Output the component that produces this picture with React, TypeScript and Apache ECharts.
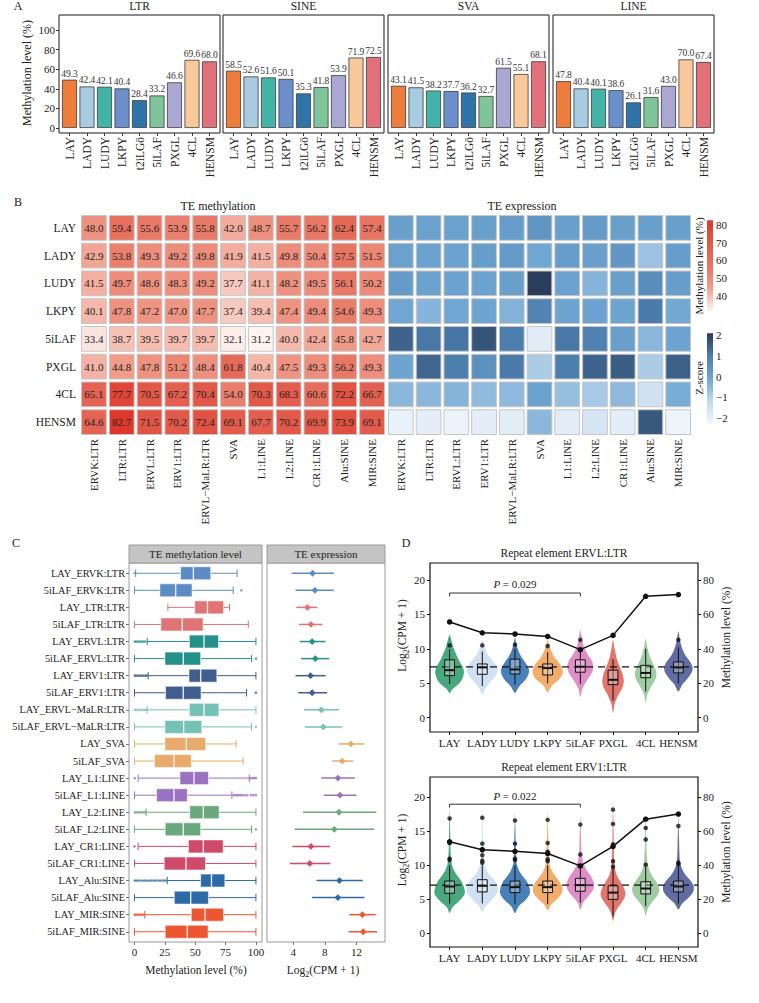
import React, { useEffect, useRef } from 'react';
import * as echarts from 'echarts';

const FONT = '"Liberation Serif", "Times New Roman", serif';
const INK = '#222222';

/* ---------- A: mean methylation level per TE class ---------- */
const SAMPLES = ['LAY', 'LADY', 'LUDY', 'LKPY', 't2iLGö', '5iLAF', 'PXGL', '4CL', 'HENSM'];
const SAMPLE_COLORS = ['#EE7D3B', '#A8CBE1', '#43B3A8', '#6A8FCB', '#2F74A9', '#7FC59C', '#ABA7D3', '#F9C99B', '#E2707B'];
const CLASS_TITLES = ['LTR', 'SINE', 'SVA', 'LINE'];
const METH_LTR = [49.3, 42.4, 42.1, 40.4, 28.4, 33.2, 46.6, 69.6, 68.0];
const METH_SINE = [58.5, 52.6, 51.6, 50.1, 35.3, 41.8, 53.9, 71.9, 72.5];
const METH_SVA = [43.1, 41.5, 38.2, 37.7, 36.2, 32.7, 61.5, 55.1, 68.1];
const METH_LINE = [47.8, 40.4, 40.1, 38.6, 26.1, 31.6, 43.0, 70.0, 67.4];
const A_TICKS = [0, 20, 40, 60, 80, 100];

/* ---------- B: TE subfamily methylation and expression ---------- */
const HM_ROWS = ['LAY', 'LADY', 'LUDY', 'LKPY', '5iLAF', 'PXGL', '4CL', 'HENSM'];
const TE_FAMILIES = ['ERVK:LTR', 'LTR:LTR', 'ERVL:LTR', 'ERV1:LTR', 'ERVL−MaLR:LTR', 'SVA', 'L1:LINE', 'L2:LINE', 'CR1:LINE', 'Alu:SINE', 'MIR:SINE'];
const TE_METH_LAY = [48.0, 59.4, 55.6, 53.9, 55.8, 42.0, 48.7, 55.7, 56.2, 62.4, 57.4];
const TE_METH_LADY = [42.9, 53.8, 49.3, 49.2, 49.8, 41.9, 41.5, 49.8, 50.4, 57.5, 51.5];
const TE_METH_LUDY = [41.5, 49.7, 48.6, 48.3, 49.2, 37.7, 41.1, 48.2, 49.5, 56.1, 50.2];
const TE_METH_LKPY = [40.1, 47.8, 47.2, 47.0, 47.7, 37.4, 39.4, 47.4, 49.4, 54.6, 49.3];
const TE_METH_5ILAF = [33.4, 38.7, 39.5, 39.7, 39.7, 32.1, 31.2, 40.0, 42.4, 45.8, 42.7];
const TE_METH_PXGL = [41.0, 44.8, 47.8, 51.2, 48.4, 61.8, 40.4, 47.5, 49.3, 56.2, 49.3];
const TE_METH_4CL = [65.1, 77.7, 70.5, 67.2, 70.4, 54.0, 70.3, 68.3, 60.6, 72.2, 66.7];
const TE_METH_HENSM = [64.6, 82.7, 71.5, 70.2, 72.4, 69.1, 67.7, 70.2, 69.9, 73.9, 69.1];
const TE_METH = [TE_METH_LAY, TE_METH_LADY, TE_METH_LUDY, TE_METH_LKPY, TE_METH_5ILAF, TE_METH_PXGL, TE_METH_4CL, TE_METH_HENSM];

const TE_Z_LAY = [0.1, 0.05, 0.05, 0.1, 0.15, 0.35, 0.1, 0.2, 0.1, 0.1, 0.1];
const TE_Z_LADY = [0.05, 0.0, 0.0, 0.15, 0.2, -0.1, 0.15, 0.1, 0.3, -0.7, 0.15];
const TE_Z_LUDY = [0.2, 0.05, 0.0, 0.0, 0.1, 2.1, 0.0, -0.4, 0.1, 0.6, 0.15];
const TE_Z_LKPY = [-0.1, -0.4, -0.1, -0.05, -0.35, 0.85, -0.05, 0.0, -0.05, 1.05, -0.15];
const TE_Z_5ILAF = [1.45, 1.1, 1.15, 1.7, 1.0, -1.85, 1.1, 0.9, 0.1, -0.45, -0.05];
const TE_Z_PXGL = [-0.05, 1.4, 1.0, 0.5, 1.05, -0.9, 1.0, 1.45, 1.55, -0.9, 1.5];
const TE_Z_4CL = [-0.45, -0.45, -0.4, -0.55, -0.5, 0.05, -0.6, -0.85, -0.5, -1.5, -0.25];
const TE_Z_HENSM = [-2.05, -1.95, -2.1, -1.95, -1.9, -0.45, -1.9, -1.6, -1.95, 1.65, -2.15];
const TE_Z = [TE_Z_LAY, TE_Z_LADY, TE_Z_LUDY, TE_Z_LKPY, TE_Z_5ILAF, TE_Z_PXGL, TE_Z_4CL, TE_Z_HENSM];

const METH_RANGE = [31.2, 82.7];
const METH_RAMP = ['#FEF3EF', '#F19E8C', '#E87563', '#E2594A', '#DE382C'];
const METH_LEGEND_TICKS = [40, 50, 60, 70, 80];
const Z_RANGE = [-2.3, 2.1];
const Z_RAMP = ['#F4F8FC', '#C3DAEE', '#6FA6D2', '#4C7EAE', '#2A3D5C'];
const Z_LEGEND_TICKS = [2, 1, 0, -1, -2];

/* ---------- C: LAY vs 5iLAF per TE subfamily ---------- */
const C_SAMPLES = ['LAY', '5iLAF'];
const C_FAMILY_COLORS = ['#5B8CC3', '#E07373', '#23918A', '#3F5E8E', '#74C2B6', '#E8AB6C', '#9B72C0', '#69A97B', '#D04A6A', '#2C6BA7', '#EC5631'];
const C_ROWS = TE_FAMILIES.flatMap((f) => C_SAMPLES.map((s) => `${s}_${f}`));
// [lower whisker, Q1, median, Q3, upper whisker], methylation %
const C_BOX = [
  [1.0, 38.0, 48.5, 62.8, 84.5],
  [0, 20.9, 33.9, 47.4, 81.3],
  [27.5, 49.6, 60.1, 73.3, 78.2],
  [0, 21.8, 39.4, 56.5, 93.7],
  [10.5, 45.2, 57.3, 69.2, 100],
  [0, 25.1, 40.2, 54.5, 96.4],
  [11.3, 44.9, 54.5, 67.8, 100],
  [0, 25.6, 40.2, 54.8, 92.3],
  [10.5, 45.2, 57.3, 69.5, 100],
  [0, 25.1, 40.5, 55.4, 96.4],
  [0, 25.1, 42.7, 58.7, 83.7],
  [0, 16.5, 32.5, 46.8, 89.5],
  [3.0, 37.5, 49.0, 60.9, 94.5],
  [0, 18.2, 32.5, 43.5, 80.2],
  [9.6, 45.5, 56.7, 69.7, 100],
  [0, 25.3, 40.2, 54.5, 96.4],
  [3.0, 44.4, 56.7, 73.0, 100],
  [0, 24.5, 42.4, 58.5, 100],
  [27.0, 54.5, 63.4, 74.4, 100],
  [0, 32.8, 46.3, 60.9, 100],
  [8.5, 46.8, 58.1, 73.3, 100],
  [0, 25.3, 43.5, 60.6, 100],
];
// [row, value]
const C_OUTLIERS = [
  [0, 0.2], [1, 88],
  [4, 0.3], [4, 1.5], [4, 3], [4, 4.5], [4, 6], [4, 7.5], [4, 9], [5, 100],
  [6, 0.3], [6, 1.5], [6, 3], [6, 4.5], [6, 6], [6, 7.5], [6, 9], [6, 10.2], [7, 100],
  [8, 0.5], [8, 2], [8, 4], [8, 6], [8, 8], [8, 9.5], [9, 100],
  [12, 0.3], [12, 95.5], [12, 97], [12, 98.5], [12, 100],
  [13, 81.5], [13, 83], [13, 84.5], [13, 86], [13, 87.5], [13, 89], [13, 91], [13, 93], [13, 96], [13, 98], [13, 100],
  [14, 0.3], [14, 1.5], [14, 3], [14, 4.5], [14, 6], [14, 7.5], [14, 8.8], [15, 100],
  [16, 0],
  [18, 0.3], [18, 2], [18, 4], [18, 6], [18, 8], [18, 10], [18, 12], [18, 14], [18, 16], [18, 18], [18, 20], [18, 22], [18, 24], [18, 25.8],
  [20, 0.3], [20, 1.5], [20, 3], [20, 4.5], [20, 6], [20, 7.5],
];
// [mean, low, high], log2(CPM + 1)
const C_EXPR = [
  [6.45, 3.8, 9.15], [6.75, 4.3, 9.15], [5.8, 4.4, 7.05], [6.25, 4.75, 7.7],
  [6.4, 4.85, 8.1], [6.8, 5.0, 8.55], [6.2, 4.3, 8.1], [6.4, 4.65, 8.3],
  [7.55, 5.35, 9.8], [7.8, 5.5, 10.2], [11.3, 9.75, 13.0], [10.2, 8.9, 11.6],
  [9.65, 7.55, 11.8], [9.9, 7.85, 12.0], [9.8, 5.25, 14.5], [9.2, 4.2, 14.25],
  [6.25, 3.9, 8.65], [6.1, 3.6, 8.7], [9.85, 6.95, 12.8], [9.65, 6.4, 13.0],
  [12.75, 11.1, 14.4], [12.85, 11.0, 14.6],
];
const C_METH_TICKS = [0, 25, 50, 75, 100];
const C_EXPR_TICKS = [4, 8, 12];

/* ---------- D: single repeat elements across samples ---------- */
const D_GROUPS = ['LAY', 'LADY', 'LUDY', 'LKPY', '5iLAF', 'PXGL', '4CL', 'HENSM'];
const D_COLORS = ['#2E9B6B', '#C8DDF1', '#2F6FB0', '#F1A257', '#D97FBD', '#DE6258', '#93C596', '#4B5896'];
const D_LEFT_TICKS = [0, 5, 10, 15, 20];
const D_RIGHT_TICKS = [0, 20, 40, 60, 80];

// violin outlines: [log2(CPM + 1), half width in category units]
const ERVL_VIOLIN = [
  [[3.6, 0], [4.2, 0.1], [5.0, 0.3], [5.8, 0.4], [6.6, 0.44], [7.4, 0.4], [8.2, 0.3], [9.0, 0.22], [10.0, 0.13], [11.0, 0.07], [12.0, 0]],
  [[3.3, 0], [4.2, 0.08], [5.2, 0.25], [6.2, 0.42], [7.0, 0.47], [7.8, 0.4], [8.6, 0.25], [9.5, 0.13], [10.5, 0.06], [11.3, 0]],
  [[3.6, 0], [4.5, 0.12], [5.5, 0.32], [6.4, 0.42], [7.1, 0.42], [7.9, 0.33], [8.8, 0.2], [9.8, 0.1], [10.8, 0.04], [11.6, 0]],
  [[3.7, 0], [4.6, 0.12], [5.6, 0.36], [6.5, 0.46], [7.2, 0.44], [8.0, 0.34], [8.8, 0.2], [9.8, 0.1], [10.6, 0.04], [11.3, 0]],
  [[3.0, 0], [4.2, 0.06], [5.4, 0.2], [6.5, 0.35], [7.3, 0.4], [8.2, 0.36], [9.0, 0.25], [10.0, 0.13], [11.0, 0.07], [12.0, 0.03], [12.8, 0]],
  [[0.7, 0], [2.0, 0.05], [3.2, 0.15], [4.3, 0.28], [5.2, 0.33], [6.2, 0.3], [7.2, 0.22], [8.3, 0.13], [9.5, 0.07], [10.5, 0.03], [11.3, 0]],
  [[2.2, 0], [3.5, 0.06], [4.6, 0.18], [5.6, 0.3], [6.4, 0.33], [7.3, 0.28], [8.3, 0.18], [9.3, 0.1], [10.5, 0.04], [11.5, 0]],
  [[3.8, 0], [4.8, 0.12], [5.8, 0.3], [6.7, 0.42], [7.4, 0.43], [8.2, 0.35], [9.0, 0.22], [10.0, 0.12], [11.2, 0.05], [12.5, 0]],
];
const ERVL_BOX = [
  [4.9, 6.1, 6.9, 8.4, 9.9], [4.6, 6.3, 7.3, 7.8, 9.6], [4.8, 6.35, 7.0, 8.5, 10.0], [5.0, 6.2, 7.2, 7.8, 9.5],
  [4.9, 6.6, 7.4, 8.4, 10.0], [2.5, 4.8, 5.5, 6.9, 8.5], [3.8, 5.8, 6.5, 7.6, 10.0], [5.0, 6.5, 7.3, 8.1, 10.2],
];
const ERVL_OUTLIERS = [[10.5], [10.5], [10.6], [10.4], [11.3], [], [], [11.3]];
const ERVL_METH = [55.6, 49.3, 48.6, 47.2, 39.5, 47.8, 70.5, 71.5];
const ERVL_REF = 7.37;

const ERV1_VIOLIN = [
  [[3.0, 0], [3.8, 0.08], [4.8, 0.3], [5.8, 0.46], [6.6, 0.45], [7.5, 0.38], [8.4, 0.25], [9.3, 0.13], [10.3, 0.06], [12, 0.03], [14, 0.02], [16, 0.012], [18.3, 0]],
  [[3.2, 0], [4.0, 0.1], [5.0, 0.3], [6.0, 0.46], [6.8, 0.47], [7.6, 0.4], [8.5, 0.24], [9.4, 0.12], [10.4, 0.05], [12, 0.03], [14, 0.02], [16, 0.012], [18.2, 0]],
  [[3.0, 0], [3.9, 0.1], [4.9, 0.32], [5.8, 0.45], [6.6, 0.45], [7.5, 0.38], [8.4, 0.24], [9.3, 0.12], [10.3, 0.05], [12, 0.03], [14, 0.02], [16, 0.01], [17.8, 0]],
  [[3.4, 0], [4.2, 0.1], [5.1, 0.3], [6.0, 0.44], [6.8, 0.45], [7.6, 0.36], [8.5, 0.22], [9.4, 0.11], [10.4, 0.05], [12, 0.03], [14, 0.02], [16, 0.01], [17.9, 0]],
  [[3.5, 0], [4.5, 0.08], [5.5, 0.25], [6.5, 0.4], [7.3, 0.42], [8.2, 0.35], [9.1, 0.22], [10.0, 0.12], [11.0, 0.06], [12.5, 0.03], [14.5, 0.02], [17.2, 0]],
  [[1.8, 0], [2.8, 0.05], [3.8, 0.15], [4.8, 0.3], [5.7, 0.38], [6.5, 0.35], [7.4, 0.25], [8.3, 0.14], [9.3, 0.07], [10.5, 0.04], [12.5, 0.025], [15, 0.015], [17, 0.01], [19.5, 0]],
  [[2.6, 0], [3.6, 0.06], [4.6, 0.2], [5.6, 0.36], [6.5, 0.42], [7.4, 0.35], [8.3, 0.22], [9.2, 0.12], [10.2, 0.06], [12, 0.03], [14, 0.02], [17.5, 0]],
  [[3.5, 0], [4.3, 0.1], [5.2, 0.3], [6.1, 0.45], [6.9, 0.47], [7.7, 0.38], [8.6, 0.22], [9.5, 0.11], [10.5, 0.05], [12, 0.03], [14, 0.02], [17, 0]],
];
const ERV1_BOX = [
  [4.4, 5.9, 6.9, 7.7, 10.0], [4.4, 6.1, 7.0, 7.9, 10.0], [4.3, 6.0, 6.8, 7.7, 10.0], [4.3, 6.0, 6.8, 7.7, 10.0],
  [4.5, 6.2, 7.1, 8.1, 10.2], [2.5, 5.0, 6.0, 7.0, 9.5], [4.0, 5.8, 6.6, 7.6, 9.8], [4.4, 6.1, 6.9, 7.7, 10.0],
];
const ERV1_OUTLIERS = [
  [10.8, 11.0, 13.3, 13.5, 16.9], [10.4, 10.7, 11.5, 12.4, 13.2, 17.0], [10.8, 11.0, 12.0, 13.2, 16.6], [10.6, 10.9, 12.0, 13.3, 16.7],
  [11.6, 16.0], [9.8, 10.6, 12.7, 13.1, 16.1, 18.2], [10.1, 13.8, 15.5], [10.2, 10.4, 15.8],
];
const ERV1_METH = [53.9, 49.2, 48.3, 47.0, 39.7, 51.2, 67.2, 70.2];
const ERV1_REF = 7.1;

const D_XMIN = -0.6;
const D_XMAX = 7.6;

function text(x: number, y: number, str: string, size: number, extra: any = {}) {
  const { rotation, ...style } = extra;
  return {
    type: 'text',
    x,
    y,
    rotation: rotation || 0,
    silent: true,
    style: { text: str, fontSize: size, fontFamily: FONT, fill: INK, align: 'center', verticalAlign: 'middle', ...style },
  };
}

const LOG2_RICH = {
  a: { fontSize: 11.5, fontFamily: FONT, fill: INK, color: INK, lineHeight: 16 },
  s: { fontSize: 8, fontFamily: FONT, fill: INK, color: INK, lineHeight: 8, verticalAlign: 'bottom' },
};
const LOG2_TEXT = '{a|Log}{s|2}{a|(CPM + 1)}';

function cellRenderer(showText: boolean) {
  return (params: any, api: any) => {
    const c = api.coord([api.value(0), api.value(1)]);
    const s = api.size([1, 1]);
    const w = s[0] - 3;
    const h = s[1] - 3;
    const el: any = {
      type: 'rect',
      shape: { x: c[0] - w / 2, y: c[1] - h / 2, width: w, height: h },
      style: { fill: api.visual('color'), stroke: '#c6c6c6', lineWidth: 1 },
    };
    if (showText) {
      el.textContent = {
        style: { text: Number(api.value(2)).toFixed(1), fontSize: 11, fontFamily: FONT, fill: INK },
      };
      el.textConfig = { position: 'inside' };
    }
    return el;
  };
}

function buildOption() {
  const grids: any[] = [];
  const xAxes: any[] = [];
  const yAxes: any[] = [];
  const series: any[] = [];
  const graphics: any[] = [];

  // axes sit on the grid edges, never on the other axis' zero
  const noLine = () => ({ show: false, onZero: false });
  const noSplit = { show: false };

  /* ----- Panel A ----- */
  const A_LEFTS = [59, 223, 388, 553];
  const A_DATA = [METH_LTR, METH_SINE, METH_SVA, METH_LINE];
  const sampleIdx = SAMPLES.map((_, i) => i);
  A_DATA.forEach((vals, k) => {
    const gi = grids.length;
    grids.push({ left: A_LEFTS[k], top: 15, width: 161, height: 118, show: true, borderColor: '#1a1a1a', borderWidth: 1 });
    xAxes.push({
      type: 'value', gridIndex: gi, position: 'bottom', min: -0.6, max: 8.6, splitLine: noSplit, axisLine: noLine(),
      axisTick: { show: true, length: 3, lineStyle: { color: '#333' }, customValues: sampleIdx },
      axisLabel: { customValues: sampleIdx, formatter: (v: number) => SAMPLES[Math.round(v)], rotate: 90, fontSize: 11.5, color: INK, margin: 4, fontFamily: FONT },
    });
    yAxes.push({
      type: 'value', gridIndex: gi, position: 'left', min: -5.1, max: 115.3, splitLine: noSplit, axisLine: noLine(),
      axisTick: { show: k === 0, length: 3, lineStyle: { color: '#333' }, customValues: A_TICKS },
      axisLabel: { show: k === 0, customValues: A_TICKS, fontSize: 11, color: INK, margin: 4, fontFamily: FONT },
    });
    series.push({
      type: 'bar', xAxisIndex: gi, yAxisIndex: gi, barWidth: 15,
      data: vals.map((v, i) => ({ value: [i, v], itemStyle: { color: SAMPLE_COLORS[i] } })),
      itemStyle: { borderColor: '#3a3a3a', borderWidth: 0.8 },
      label: { show: true, position: 'top', distance: 1, fontSize: 9.5, color: '#333', fontFamily: FONT, formatter: (p: any) => Number(p.value[1]).toFixed(1) },
    });
    graphics.push(text(A_LEFTS[k] + 80.5, 6, CLASS_TITLES[k], 11.5));
  });
  graphics.push(text(18, 6, 'A', 12));
  graphics.push(text(27, 73, 'Methylation level (%)', 12, { rotation: Math.PI / 2 }));

  /* ----- Panel B ----- */
  const hmGrid = (left: number, width: number, showRows: boolean) => {
    const gi = grids.length;
    grids.push({ left, top: 214, width, height: 222 });
    xAxes.push({
      type: 'category', gridIndex: gi, position: 'bottom', data: TE_FAMILIES, axisLine: noLine(), axisTick: { show: false }, splitLine: noSplit,
      axisLabel: { rotate: 90, interval: 0, fontSize: 11, color: INK, margin: 3, fontFamily: FONT },
    });
    yAxes.push({
      type: 'category', gridIndex: gi, position: 'left', data: HM_ROWS, inverse: true, axisLine: noLine(), axisTick: { show: false }, splitLine: noSplit,
      axisLabel: { show: showRows, interval: 0, fontSize: 11.5, color: INK, margin: 4, fontFamily: FONT },
    });
    return gi;
  };
  const gMeth = hmGrid(80, 306, true);
  const sMeth = series.length;
  series.push({
    type: 'custom', xAxisIndex: gMeth, yAxisIndex: gMeth, renderItem: cellRenderer(true),
    data: TE_METH.flatMap((row, r) => row.map((v, c) => [c, r, v])),
  });
  const gZ = hmGrid(387, 305, false);
  const sZ = series.length;
  series.push({
    type: 'custom', xAxisIndex: gZ, yAxisIndex: gZ, renderItem: cellRenderer(false),
    data: TE_Z.flatMap((row, r) => row.map((v, c) => [c, r, v])),
  });
  graphics.push(text(18, 202, 'B', 12));
  graphics.push(text(218, 206, 'TE methylation', 12));
  graphics.push(text(522, 206, 'TE expression', 12));

  // colour bars
  const methY = (v: number) => 311 - (v - METH_RANGE[0]) * (90.7 / (METH_RANGE[1] - METH_RANGE[0]));
  graphics.push({
    type: 'rect', silent: true,
    shape: { x: 707, y: methY(METH_RANGE[1]), width: 6, height: methY(METH_RANGE[0]) - methY(METH_RANGE[1]) },
    style: {
      fill: new echarts.graphic.LinearGradient(0, 0, 0, 1, METH_RAMP.slice().reverse().map((c, i) => ({ offset: i / (METH_RAMP.length - 1), color: c }))),
    },
  });
  METH_LEGEND_TICKS.forEach((v) => graphics.push(text(716, methY(v), String(v), 11, { align: 'left' })));
  graphics.push(text(699, 266, 'Methylation level (%)', 11, { rotation: Math.PI / 2 }));

  const zY = (v: number) => 376.7 - v * 20.7;
  graphics.push({
    type: 'rect', silent: true,
    shape: { x: 707, y: zY(Z_RANGE[1]), width: 6, height: zY(Z_RANGE[0]) - zY(Z_RANGE[1]) },
    style: {
      fill: new echarts.graphic.LinearGradient(0, 0, 0, 1, Z_RAMP.slice().reverse().map((c, i) => ({ offset: i / (Z_RAMP.length - 1), color: c }))),
    },
  });
  Z_LEGEND_TICKS.forEach((v) => graphics.push(text(716, zY(v), v < 0 ? `−${-v}` : String(v), 11, { align: 'left' })));
  graphics.push(text(699, 378, 'Z-score', 11, { rotation: Math.PI / 2 }));

  /* ----- Panel C ----- */
  const rowIdx = C_ROWS.map((_, i) => i);
  const cGrid = (left: number, width: number, xMin: number, xMax: number, ticks: number[], showRows: boolean) => {
    const gi = grids.length;
    grids.push({ left, top: 563, width, height: 379, show: true, borderColor: '#9a9a9a', borderWidth: 1 });
    xAxes.push({
      type: 'value', gridIndex: gi, position: 'bottom', min: xMin, max: xMax, splitLine: noSplit, axisLine: noLine(),
      axisTick: { show: true, length: 3, lineStyle: { color: '#777' }, customValues: ticks },
      axisLabel: { customValues: ticks, fontSize: 11, color: INK, margin: 4, fontFamily: FONT },
    });
    yAxes.push({
      type: 'value', gridIndex: gi, position: 'left', min: -0.6, max: 21.6, inverse: true, splitLine: noSplit, axisLine: noLine(),
      axisTick: { show: showRows, length: 3, lineStyle: { color: '#777' }, customValues: rowIdx },
      axisLabel: { show: showRows, customValues: rowIdx, formatter: (v: number) => C_ROWS[Math.round(v)], fontSize: 10.3, color: INK, margin: 4, fontFamily: FONT },
    });
    return gi;
  };
  const gBox = cGrid(129, 133, -4.5, 105, C_METH_TICKS, true);
  series.push({
    type: 'custom', xAxisIndex: gBox, yAxisIndex: gBox,
    data: C_BOX.map((b, r) => [b[0], r, b[1], b[2], b[3], b[4]]),
    renderItem: (params: any, api: any) => {
      const row = api.value(1);
      const color = C_FAMILY_COLORS[Math.floor(row / 2)];
      const band = api.size([0, 1])[1];
      const h = band * 0.76;
      const cap = band * 0.22;
      const pLo = api.coord([api.value(0), row]);
      const pQ1 = api.coord([api.value(2), row]);
      const pMed = api.coord([api.value(3), row]);
      const pQ3 = api.coord([api.value(4), row]);
      const pHi = api.coord([api.value(5), row]);
      const y = pLo[1];
      const ln = (x1: number, y1: number, x2: number, y2: number, stroke: string, lw: number) => ({
        type: 'line', shape: { x1, y1, x2, y2 }, style: { stroke, lineWidth: lw },
      });
      return {
        type: 'group',
        children: [
          ln(pLo[0], y, pQ1[0], y, color, 1),
          ln(pQ3[0], y, pHi[0], y, color, 1),
          ln(pLo[0], y - cap, pLo[0], y + cap, color, 1),
          ln(pHi[0], y - cap, pHi[0], y + cap, color, 1),
          { type: 'rect', shape: { x: pQ1[0], y: y - h / 2, width: pQ3[0] - pQ1[0], height: h }, style: { fill: color, stroke: 'rgba(255,255,255,0.55)', lineWidth: 1 } },
          ln(pMed[0], y - h / 2, pMed[0], y + h / 2, 'rgba(255,255,255,0.85)', 1.4),
        ],
      };
    },
  });
  series.push({
    type: 'scatter', xAxisIndex: gBox, yAxisIndex: gBox, symbolSize: 2.6,
    data: C_OUTLIERS.map(([r, v]) => [v, r]),
    itemStyle: { color: (p: any) => C_FAMILY_COLORS[Math.floor(p.value[1] / 2)] },
  });
  const gExpr = cGrid(267, 118, 0.7, 15.6, C_EXPR_TICKS, false);
  series.push({
    type: 'custom', xAxisIndex: gExpr, yAxisIndex: gExpr,
    data: C_EXPR.map(([m, lo, hi], r) => [m, r, lo, hi]),
    renderItem: (params: any, api: any) => {
      const row = api.value(1);
      const color = C_FAMILY_COLORS[Math.floor(row / 2)];
      const pm = api.coord([api.value(0), row]);
      const pl = api.coord([api.value(2), row]);
      const ph = api.coord([api.value(3), row]);
      const d = 3.4;
      return {
        type: 'group',
        children: [
          { type: 'line', shape: { x1: pl[0], y1: pm[1], x2: ph[0], y2: pm[1] }, style: { stroke: color, lineWidth: 1.5 } },
          { type: 'polygon', shape: { points: [[pm[0], pm[1] - d], [pm[0] + d, pm[1]], [pm[0], pm[1] + d], [pm[0] - d, pm[1]]] }, style: { fill: color } },
        ],
      };
    },
  });
  graphics.push(text(16, 543, 'C', 12));
  graphics.push({ type: 'rect', silent: true, shape: { x: 129, y: 545, width: 133, height: 18 }, style: { fill: '#C4C4C4', stroke: '#9a9a9a', lineWidth: 1 } });
  graphics.push({ type: 'rect', silent: true, shape: { x: 267, y: 545, width: 118, height: 18 }, style: { fill: '#C4C4C4', stroke: '#9a9a9a', lineWidth: 1 } });
  graphics.push(text(195.5, 554, 'TE methylation level', 11));
  graphics.push(text(326, 554, 'TE expression', 11));
  graphics.push(text(196, 970, 'Methylation level (%)', 11.5));
  graphics.push({
    type: 'text', x: 323, y: 970, silent: true,
    style: { text: LOG2_TEXT, rich: LOG2_RICH, fontSize: 11.5, fontFamily: FONT, fill: INK, align: 'center', verticalAlign: 'middle' },
  });

  /* ----- Panel D ----- */
  const groupIdx = D_GROUPS.map((_, i) => i);
  const violinPanel = (cfg: any) => {
    const { top, height, yMin, yMax, title, violins, boxes, outliers, meth, refLevel, pText, pY } = cfg;
    const gi = grids.length;
    grids.push({ left: 430, top, width: 268, height, show: true, borderColor: '#111', borderWidth: 1.2 });
    const xi = xAxes.length;
    xAxes.push({
      type: 'value', gridIndex: gi, position: 'bottom', min: D_XMIN, max: D_XMAX, splitLine: noSplit, axisLine: noLine(),
      axisTick: { show: true, length: 3, lineStyle: { color: '#111' }, customValues: groupIdx },
      axisLabel: { customValues: groupIdx, formatter: (v: number) => D_GROUPS[Math.round(v)], fontSize: 11, color: INK, margin: 5, fontFamily: FONT },
    });
    const yl = yAxes.length;
    yAxes.push({
      type: 'value', gridIndex: gi, position: 'left', min: yMin, max: yMax, splitLine: noSplit, axisLine: noLine(),
      axisTick: { show: true, length: 3, lineStyle: { color: '#111' }, customValues: D_LEFT_TICKS },
      axisLabel: { customValues: D_LEFT_TICKS, fontSize: 11, color: INK, margin: 5, fontFamily: FONT },
    });
    const yr = yAxes.length;
    yAxes.push({
      type: 'value', gridIndex: gi, position: 'right', min: yMin * 4, max: yMax * 4, splitLine: noSplit, axisLine: noLine(),
      axisTick: { show: true, length: 3, lineStyle: { color: '#111' }, customValues: D_RIGHT_TICKS },
      axisLabel: { customValues: D_RIGHT_TICKS, fontSize: 11, color: INK, margin: 5, fontFamily: FONT },
    });
    series.push({
      type: 'custom', xAxisIndex: xi, yAxisIndex: yl, z: 2,
      data: boxes.map((b: number[], i: number) => [i, b[2]]),
      renderItem: (params: any, api: any) => {
        const i = params.dataIndex;
        const prof: number[][] = violins[i];
        const left = prof.map(([y, w]) => api.coord([i - w, y]));
        const right = prof.slice().reverse().filter(([, w]) => w > 0).map(([y, w]) => api.coord([i + w, y]));
        return {
          type: 'polygon',
          shape: { points: left.concat(right), smooth: 0.3 },
          style: { fill: D_COLORS[i], opacity: 0.88 },
        };
      },
    });
    series.push({
      type: 'line', xAxisIndex: xi, yAxisIndex: yl, z: 3, symbol: 'none', silent: true,
      data: [[D_XMIN, refLevel], [D_XMAX, refLevel]],
      lineStyle: { color: '#111', width: 1.4, type: [7, 5] },
    });
    series.push({
      type: 'custom', xAxisIndex: xi, yAxisIndex: yl, z: 4,
      data: boxes.map((b: number[], i: number) => [i, b[0], b[1], b[2], b[3], b[4]]),
      renderItem: (params: any, api: any) => {
        const i = api.value(0);
        const pLo = api.coord([i, api.value(1)]);
        const pQ1 = api.coord([i, api.value(2)]);
        const pMed = api.coord([i, api.value(3)]);
        const pQ3 = api.coord([i, api.value(4)]);
        const pHi = api.coord([i, api.value(5)]);
        const bw = api.size([0.3, 0])[0];
        const x = pLo[0];
        return {
          type: 'group',
          children: [
            { type: 'line', shape: { x1: x, y1: pLo[1], x2: x, y2: pHi[1] }, style: { stroke: '#111', lineWidth: 1 } },
            { type: 'rect', shape: { x: x - bw / 2, y: pQ3[1], width: bw, height: pQ1[1] - pQ3[1] }, style: { fill: 'rgba(255,255,255,0.3)', stroke: '#111', lineWidth: 1 } },
            { type: 'line', shape: { x1: x - bw / 2, y1: pMed[1], x2: x + bw / 2, y2: pMed[1] }, style: { stroke: '#111', lineWidth: 2 } },
          ],
        };
      },
    });
    series.push({
      type: 'scatter', xAxisIndex: xi, yAxisIndex: yl, z: 5, symbolSize: 4.5,
      data: outliers.flatMap((vals: number[], i: number) => vals.map((v) => [i, v])),
      itemStyle: { color: '#111' },
    });
    series.push({
      type: 'line', xAxisIndex: xi, yAxisIndex: yr, z: 6, symbol: 'circle', symbolSize: 5.5,
      data: meth.map((v: number, i: number) => [i, v]),
      lineStyle: { color: '#111', width: 1.5 }, itemStyle: { color: '#111' },
    });
    series.push({
      type: 'custom', xAxisIndex: xi, yAxisIndex: yl, z: 6,
      data: [[0, pY, 4]],
      renderItem: (params: any, api: any) => {
        const x0 = api.value(0);
        const yv = api.value(1);
        const x1 = api.value(2);
        const a = api.coord([x0, yv - 0.5]);
        const b = api.coord([x0, yv]);
        const c = api.coord([x1, yv]);
        const d = api.coord([x1, yv - 0.5]);
        const t = api.coord([(x0 + x1) / 2, yv + 1.25]);
        return {
          type: 'group',
          children: [
            { type: 'polyline', shape: { points: [a, b, c, d] }, style: { stroke: '#333', lineWidth: 1, fill: 'none' } },
            {
              type: 'text', x: t[0], y: t[1],
              style: {
                text: `{i|P} = ${pText}`, fontSize: 11, fontFamily: FONT, fill: INK, align: 'center', verticalAlign: 'middle',
                rich: { i: { fontStyle: 'italic', fontSize: 11, fontFamily: FONT, fill: INK, color: INK } },
              },
            },
          ],
        };
      },
    });
    graphics.push(text(564, top - 10, title, 11.5));
    graphics.push({
      type: 'text', x: 402, y: top + height / 2 - 12, rotation: Math.PI / 2, silent: true,
      style: { text: LOG2_TEXT, rich: LOG2_RICH, fontSize: 11.5, fontFamily: FONT, fill: INK, align: 'center', verticalAlign: 'middle' },
    });
    graphics.push(text(726, top + height / 2 - 10, 'Methylation level (%)', 11.5, { rotation: Math.PI / 2 }));
  };

  violinPanel({
    top: 563, height: 169, yMin: -2.08, yMax: 22.46, title: 'Repeat element ERVL:LTR',
    violins: ERVL_VIOLIN, boxes: ERVL_BOX, outliers: ERVL_OUTLIERS, meth: ERVL_METH, refLevel: ERVL_REF,
    pText: '0.029', pY: 18.1,
  });
  violinPanel({
    top: 777, height: 170, yMin: -2.0, yMax: 23.0, title: 'Repeat element ERV1:LTR',
    violins: ERV1_VIOLIN, boxes: ERV1_BOX, outliers: ERV1_OUTLIERS, meth: ERV1_METH, refLevel: ERV1_REF,
    pText: '0.022', pY: 19.0,
  });
  graphics.push(text(406, 543, 'D', 12));

  return {
    animation: false,
    backgroundColor: '#ffffff',
    textStyle: { fontFamily: FONT },
    grid: grids,
    xAxis: xAxes,
    yAxis: yAxes,
    visualMap: [
      { type: 'continuous', show: false, seriesIndex: sMeth, dimension: 2, min: METH_RANGE[0], max: METH_RANGE[1], inRange: { color: METH_RAMP } },
      { type: 'continuous', show: false, seriesIndex: sZ, dimension: 2, min: Z_RANGE[0], max: Z_RANGE[1], inRange: { color: Z_RAMP } },
    ],
    series,
    graphic: { elements: graphics },
  };
}

export default function App() {
  const ref = useRef<HTMLDivElement>(null);
  useEffect(() => {
    if (!ref.current) return;
    const chart = echarts.init(ref.current, undefined, { renderer: 'svg' });
    chart.setOption(buildOption() as any);
    return () => chart.dispose();
  }, []);
  return <div ref={ref} style={{ position: 'absolute', left: 0, top: 0, width: 759, height: 1003, background: '#fff' }} />;
}
